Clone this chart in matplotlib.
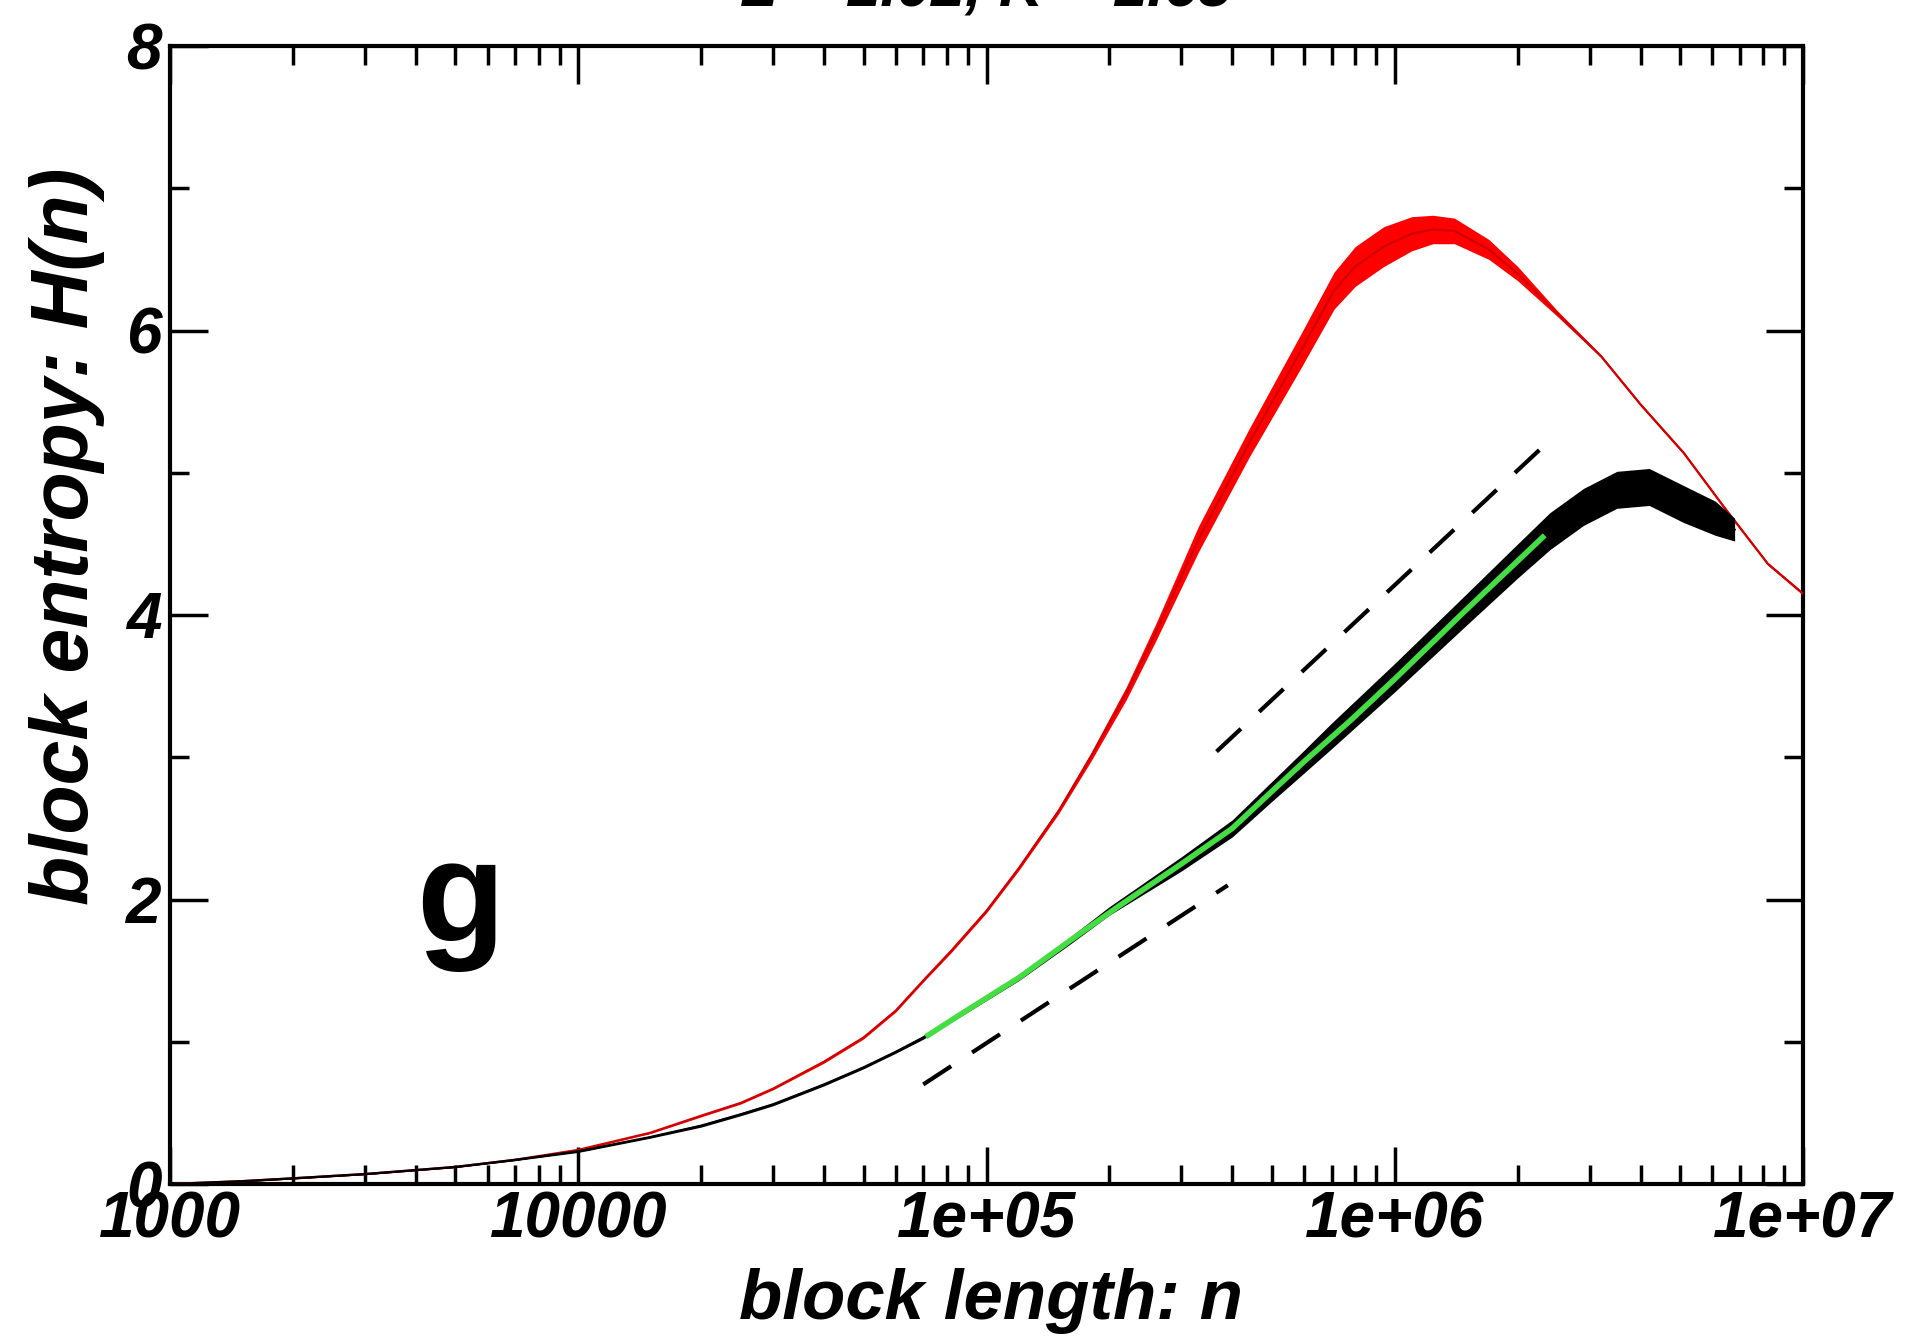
import matplotlib
import numpy
matplotlib.use('Agg')
import matplotlib.pyplot as plt
import matplotlib.ticker as mticker

plt.rcParams['font.family'] = ['Liberation Sans', 'DejaVu Sans']

# black curve (block entropy)
nBlack = [1e3, 1.5e3, 2e3, 3e3, 5e3, 7e3, 1e4, 1.5e4, 2e4, 2.5e4, 3e4, 4e4, 5e4, 6e4, 7e4, 8.5e4,
          1.2e5, 1.6e5, 2e5, 3e5, 4e5, 5e5, 6e5, 7e5, 1e6, 1.5e6, 2e6, 2.4e6, 2.9e6, 3.5e6,
          4.2e6, 5.1e6, 6.1e6, 6.8e6]
hBlack = [0.0, 0.02, 0.04, 0.07, 0.12, 0.17, 0.23, 0.33, 0.41, 0.49, 0.56, 0.70, 0.82, 0.93, 1.03, 1.18,
          1.45, 1.71, 1.92, 2.25, 2.50, 2.76, 2.97, 3.15, 3.56, 4.04, 4.38, 4.59, 4.76, 4.88,
          4.90, 4.78, 4.68, 4.60]
# half width of the jitter band around the black curve
wBlack = [0.005, 0.005, 0.005, 0.005, 0.005, 0.006, 0.008, 0.008, 0.01, 0.01, 0.01, 0.01, 0.01, 0.01, 0.012, 0.015,
          0.02, 0.025, 0.03, 0.05, 0.06, 0.07, 0.08, 0.09, 0.10, 0.11, 0.12, 0.13, 0.13, 0.13,
          0.13, 0.13, 0.12, 0.08]

# red curve
nRed = [1e3, 1.5e3, 2e3, 3e3, 5e3, 7e3, 1e4, 1.5e4, 2e4, 2.5e4, 3e4, 4e4, 5e4, 6e4, 7e4, 8.2e4,
        1e5, 1.2e5, 1.5e5, 1.8e5, 2.2e5, 2.6e5, 3.3e5, 4.4e5, 5.9e5, 7.1e5, 8e5, 9.4e5, 1.1e6,
        1.24e6, 1.4e6, 1.7e6, 2e6, 2.5e6, 3.2e6, 4e6, 5.1e6, 6.4e6, 8.2e6, 1e7]
hRed = [0.0, 0.02, 0.04, 0.07, 0.12, 0.17, 0.24, 0.36, 0.48, 0.57, 0.67, 0.86, 1.03, 1.22, 1.43, 1.64,
        1.92, 2.22, 2.62, 3.0, 3.45, 3.88, 4.53, 5.21, 5.86, 6.28, 6.45, 6.59, 6.68,
        6.71, 6.70, 6.57, 6.40, 6.12, 5.82, 5.48, 5.14, 4.76, 4.36, 4.15]
wRed = [0.005, 0.005, 0.005, 0.005, 0.005, 0.005, 0.005, 0.006, 0.008, 0.008, 0.008, 0.01, 0.01, 0.01, 0.01, 0.012,
        0.013, 0.015, 0.02, 0.03, 0.045, 0.06, 0.09, 0.10, 0.12, 0.13, 0.14, 0.14, 0.12,
        0.10, 0.09, 0.07, 0.05, 0.02, 0.01, 0.01, 0.01, 0.01, 0.01, 0.01]

# green fit
nFit = [7.1e4, 8.5e4, 1.2e5, 1.6e5, 2.1e5, 3e5, 4e5, 5e5, 6e5, 7.8e5, 1e6, 1.5e6, 2.33e6]
hFit = [1.035, 1.18, 1.45, 1.71, 1.95, 2.25, 2.50, 2.76, 2.97, 3.26, 3.55, 4.04, 4.56]

# dashed guide lines
nUpper = [3.66e5, 2.3e6]
hUpper = [3.04, 5.18]
nLower = [7.0e4, 3.9e5]
hLower = [0.70, 2.10]

xTicks = [1e3, 1e4, 1e5, 1e6, 1e7]
xTickLabels = ['1000', '10000', '1e+05', '1e+06', '1e+07']
yTicks = [0, 2, 4, 6, 8]

fig = plt.figure(figsize=(19.1, 13.39), dpi=100)
ax = fig.add_axes([170 / 1910, 1 - 1184 / 1339, 1633 / 1910, 1138 / 1339])

nb = numpy.array(nBlack)
hb = numpy.array(hBlack)
wb = numpy.array(wBlack)
nr = numpy.array(nRed)
hr = numpy.array(hRed)
wr = numpy.array(wRed)

ax.fill_between(nr, hr - wr, hr + wr, color='#ff0000', linewidth=0, zorder=2)
ax.plot(nr, hr, color='#d00000', linewidth=1.6, zorder=3)
ax.fill_between(nb, hb - wb, hb + wb, color='black', linewidth=0, zorder=4)
ax.plot(nb, hb, color='black', linewidth=1.6, zorder=4)
ax.plot(nFit, hFit, color='#44dd44', linewidth=4, solid_capstyle='butt', zorder=5)
ax.plot(nUpper, hUpper, color='black', linewidth=3, dashes=(8, 6), zorder=5)
ax.plot(nLower, hLower, color='black', linewidth=3, dashes=(8, 6), zorder=5)

ax.set_xscale('log')
ax.set_xlim(1e3, 1e7)
ax.set_ylim(0, 8)
ax.set_xticks(xTicks, labels=xTickLabels)
ax.xaxis.set_minor_locator(mticker.LogLocator(base=10, subs=numpy.arange(2, 10)))
ax.xaxis.set_minor_formatter(mticker.NullFormatter())
ax.set_yticks(yTicks)
ax.yaxis.set_minor_locator(mticker.MultipleLocator(1))

ax.tick_params(which='both', direction='in', top=True, right=True, width=2.5)
ax.tick_params(which='major', length=27)
ax.tick_params(which='minor', length=14)
ax.tick_params(axis='x', which='major', pad=5)
ax.tick_params(axis='y', which='major', pad=6)
for lab in ax.get_xticklabels() + ax.get_yticklabels():
    lab.set_fontsize(46)
    lab.set_fontweight('bold')
    lab.set_fontstyle('italic')
for sp in ax.spines.values():
    sp.set_linewidth(3)

fig.text(991 / 1910, 1 - 1319 / 1339, 'block length: n', fontsize=51, fontweight='bold',
         fontstyle='italic', ha='center', va='baseline')
fig.text(67 / 1910, 1 - 536 / 1339, 'block entropy: H(n)', fontsize=58, fontweight='bold',
         fontstyle='italic', ha='center', va='center', rotation=90)
fig.text(986 / 1910, 1 - 7 / 1339, 'L = 1.02, K = 1.65', fontsize=44, fontweight='bold',
         fontstyle='italic', ha='center', va='baseline')
fig.text(416 / 1910, 1 - 941 / 1339, 'g', fontsize=104, fontweight='bold', ha='left', va='baseline')

fig.savefig('out.png', dpi=100)
